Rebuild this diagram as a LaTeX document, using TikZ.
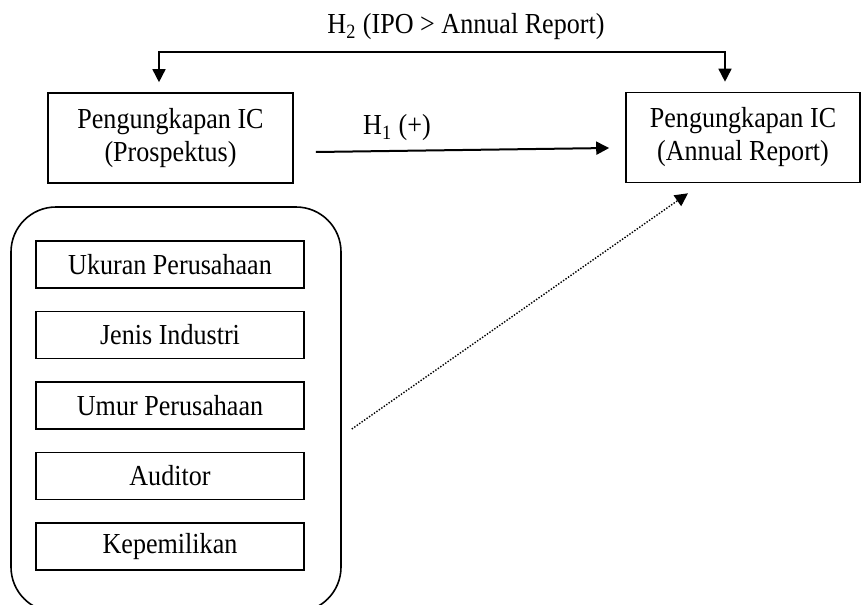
\documentclass[tikz,border=0pt]{standalone}
\usepackage{fontspec}
\setmainfont{Liberation Serif}[FakeStretch=0.9]
\usetikzlibrary{arrows.meta}

\begin{document}
\begin{tikzpicture}[x=0.5pt, y=-0.5pt,
    font=\fontsize{14.5pt}{16.5pt}\selectfont,
    >={Triangle[length=6.5pt,width=6.5pt]},
    icbox/.style={draw, line width=0.8pt, align=center, minimum height=45pt},
    varbox/.style={draw, line width=0.8pt, minimum width=134pt, minimum height=23.5pt}]
    \clip (0,0) rectangle (862,605);

    % Disclosure boxes
    \node[icbox, minimum width=122.5pt] (prosp) at (170.5,138) {Pengungkapan IC\\(Prospektus)};
    \node[icbox, minimum width=117pt] (annual) at (743,137.5) {Pengungkapan IC\\(Annual Report)};

    % H2 bracket
    \coordinate (brL) at (159,52);
    \coordinate (brR) at (725,52);
    \draw[<->, line width=0.8pt, shorten <=5pt, shorten >=5pt] (prosp.north -| brL) -- (brL) -- (brR) -- (annual.north -| brR);
    \node (h2) at (466,27) {H\textsubscript{2} (IPO > Annual Report)};

    % H1
    \draw[->, line width=1pt] ([xshift=11pt,yshift=-7pt]prosp.east) -- ([xshift=-8pt,yshift=-5.25pt]annual.west);
    \node (h1) at (397,128) {H\textsubscript{1} (+)};

    % Control variables
    \node[draw, line width=0.8pt, rounded corners=22.5pt, minimum width=165pt, minimum height=202.5pt] (ctrl) at (176,409.5) {};
    \node[varbox] (size) at (170,264.5) {Ukuran Perusahaan};
    \node[varbox] (ind) at (170,335) {Jenis Industri};
    \node[varbox] (age) at (170,405.5) {Umur Perusahaan};
    \node[varbox] (aud) at (170,476) {Auditor};
    \node[varbox] (own) at (170,546.5) {Kepemilikan};

    \draw[->, line width=0.7pt, dash pattern=on 0.7pt off 0.8pt] ([xshift=5pt,yshift=-9.75pt]ctrl.east) -- ([xshift=-27.5pt,yshift=-5pt]annual.south);
\end{tikzpicture}
\end{document}
